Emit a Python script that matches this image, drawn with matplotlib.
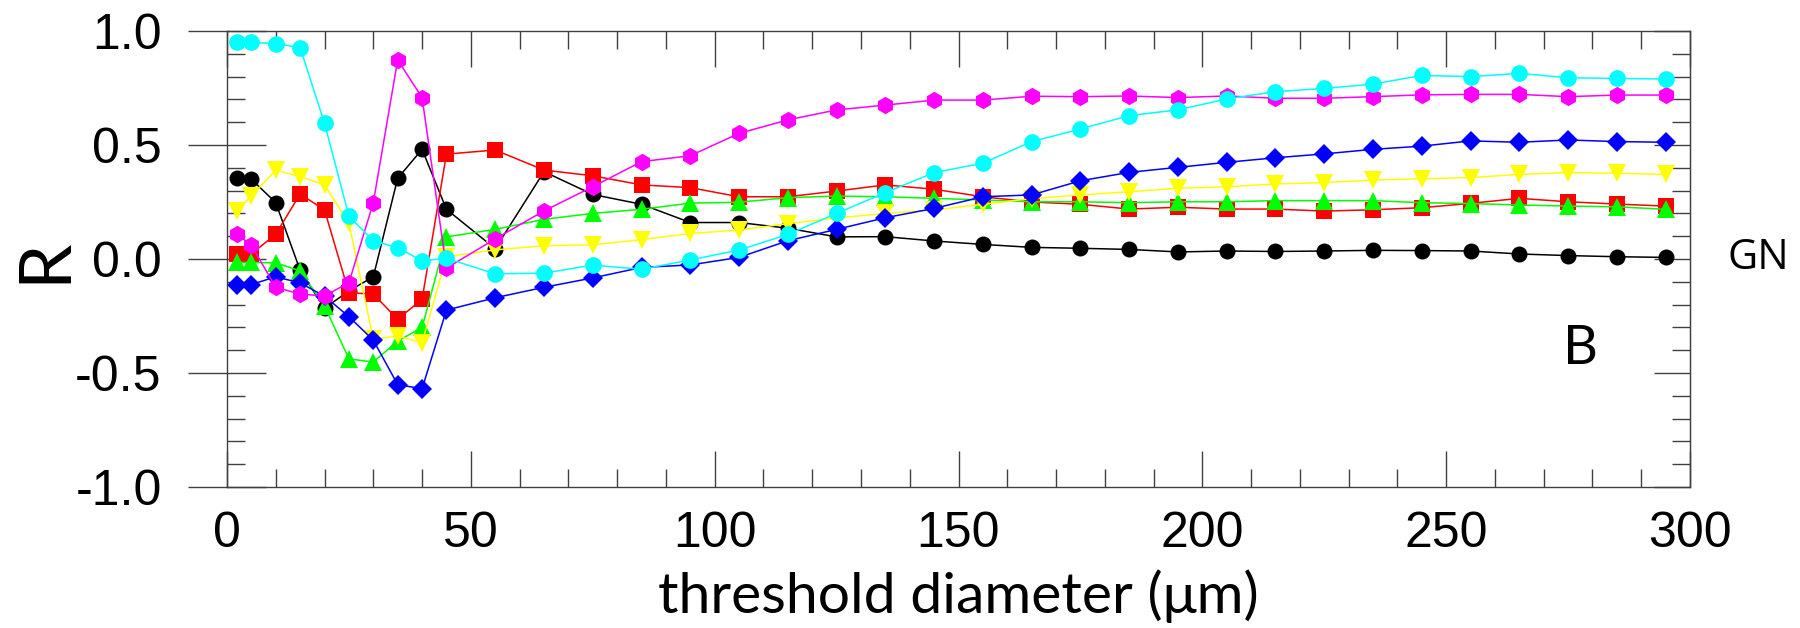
import numpy as np
import matplotlib.pyplot as plt
from matplotlib.ticker import MultipleLocator, FuncFormatter

plt.rcParams['axes.unicode_minus'] = False

# threshold diameter (um)
diam = [2, 5, 10, 15, 20, 25, 30, 35, 40, 45, 55, 65, 75, 85, 95, 105, 115, 125,
        135, 145, 155, 165, 175, 185, 195, 205, 215, 225, 235, 245, 255, 265, 275,
        285, 295]

r_black = [0.356, 0.35, 0.247, -0.05, -0.216, -0.14, -0.078, 0.354, 0.481, 0.218,
           0.045, 0.383, 0.283, 0.24, 0.16, 0.16, 0.135, 0.097, 0.098, 0.079, 0.064,
           0.051, 0.047, 0.042, 0.031, 0.035, 0.033, 0.035, 0.038, 0.037, 0.035,
           0.022, 0.015, 0.01, 0.007]
r_red = [0.022, 0.022, 0.109, 0.285, 0.215, -0.148, -0.154, -0.264, -0.177, 0.46,
         0.478, 0.39, 0.365, 0.325, 0.313, 0.273, 0.273, 0.298, 0.325, 0.306, 0.273,
         0.25, 0.24, 0.219, 0.227, 0.219, 0.219, 0.21, 0.216, 0.225, 0.244, 0.266,
         0.251, 0.241, 0.232]
r_green = [-0.015, -0.015, -0.017, -0.052, -0.206, -0.438, -0.452, -0.36, -0.3, 0.097,
           0.13, 0.174, 0.2, 0.218, 0.245, 0.249, 0.269, 0.276, 0.273, 0.266, 0.259,
           0.251, 0.251, 0.247, 0.251, 0.251, 0.256, 0.256, 0.256, 0.247, 0.243,
           0.237, 0.232, 0.229, 0.218]
r_yellow = [0.212, 0.276, 0.39, 0.361, 0.325, 0.157, -0.352, -0.338, -0.367, 0.01,
            0.04, 0.058, 0.062, 0.085, 0.112, 0.127, 0.155, 0.18, 0.2, 0.215, 0.24,
            0.265, 0.281, 0.295, 0.31, 0.317, 0.329, 0.335, 0.346, 0.352, 0.357,
            0.371, 0.379, 0.376, 0.371]
r_blue = [-0.115, -0.112, -0.078, -0.105, -0.163, -0.253, -0.356, -0.551, -0.569, -0.224,
          -0.17, -0.124, -0.083, -0.037, -0.026, 0.007, 0.08, 0.13, 0.181, 0.222, 0.273,
          0.281, 0.343, 0.38, 0.402, 0.424, 0.444, 0.461, 0.481, 0.495, 0.518, 0.512,
          0.522, 0.515, 0.512]
r_magenta = [0.11, 0.06, -0.124, -0.154, -0.162, -0.104, 0.247, 0.873, 0.708, -0.04,
             0.088, 0.211, 0.317, 0.427, 0.453, 0.551, 0.61, 0.654, 0.675, 0.697, 0.697,
             0.714, 0.712, 0.715, 0.708, 0.715, 0.705, 0.705, 0.712, 0.72, 0.722, 0.722,
             0.712, 0.719, 0.719]
r_cyan = [0.95, 0.95, 0.945, 0.927, 0.595, 0.188, 0.08, 0.05, -0.008, 0.003,
          -0.065, -0.062, -0.027, -0.045, -0.004, 0.039, 0.108, 0.2, 0.291, 0.379, 0.42,
          0.515, 0.57, 0.629, 0.654, 0.702, 0.734, 0.748, 0.767, 0.805, 0.8, 0.814,
          0.795, 0.792, 0.789]

series = [
    (r_black, 'black', 'o', 11.5),
    (r_red, '#ff0000', 's', 12),
    (r_green, '#00ff00', '^', 13),
    (r_yellow, '#ffff00', 'v', 13),
    (r_blue, '#0000ff', 'D', 10.5),
    (r_magenta, '#ff00ff', 'h', 12.5),
    (r_cyan, '#00ffff', 'o', 12),
]

fig = plt.figure(figsize=(18, 6.28), dpi=100)
ax = fig.add_axes([227 / 1800, 1 - 487 / 628, 1463 / 1800, 456 / 628])

for vals, col, mk, ms in series:
    ax.plot(diam, vals, color=col, marker=mk, markersize=ms, markeredgewidth=0,
            linewidth=1.1)

ax.set_xlim(0, 300)
ax.set_ylim(-1, 1)

spine_col = '#404040'
for s in ax.spines.values():
    s.set_color(spine_col)
    s.set_linewidth(1.0)

ax.xaxis.set_major_locator(MultipleLocator(50))
ax.xaxis.set_minor_locator(MultipleLocator(10))
ax.yaxis.set_major_locator(MultipleLocator(0.5))
ax.yaxis.set_minor_locator(MultipleLocator(0.1))
ax.yaxis.set_major_formatter(FuncFormatter(lambda v, p: '%.1f' % (0.0 if abs(v) < 1e-9 else v)))

ax.tick_params(axis='x', which='major', direction='in', length=26, width=1,
               color=spine_col, top=True, pad=17, labelsize=36)
ax.tick_params(axis='x', which='minor', direction='in', length=13, width=1,
               color=spine_col, top=True)
ax.tick_params(axis='y', which='major', direction='inout', length=56, width=1,
               color=spine_col, right=False, pad=19, labelsize=36)
ax.tick_params(axis='y', which='minor', direction='in', length=13, width=1,
               color=spine_col, right=False)
for lab in ax.get_xticklabels() + ax.get_yticklabels():
    lab.set_fontfamily('Liberation Sans')

# right-hand ticks only point inwards
sec = ax.secondary_yaxis('right')
sec.yaxis.set_major_locator(MultipleLocator(0.5))
sec.yaxis.set_minor_locator(MultipleLocator(0.1))
sec.tick_params(which='major', direction='in', length=26, width=1, color=spine_col,
                labelright=False)
sec.tick_params(which='minor', direction='in', length=13, width=1, color=spine_col)
sec.spines['right'].set_color(spine_col)

ax.set_xlabel('threshold diameter (μm)', fontsize=41, family='Lato', va='baseline')
ax.xaxis.set_label_coords(0.5, (487 - 613) / 456)
ax.set_ylabel('R', fontsize=52, family='Lato', rotation=90, rotation_mode='anchor',
              ha='center', va='baseline')
ax.yaxis.set_label_coords((65 - 227) / 1463, (487 - 260) / 456)

ax.text(277.6, -0.46, 'B', fontsize=39, family='Lato', ha='center', va='baseline')
ax.text(307.6, -0.044, 'GN', fontsize=30, family='Open Sans', ha='left',
        va='baseline', clip_on=False)

fig.savefig('out.png', dpi=100)
